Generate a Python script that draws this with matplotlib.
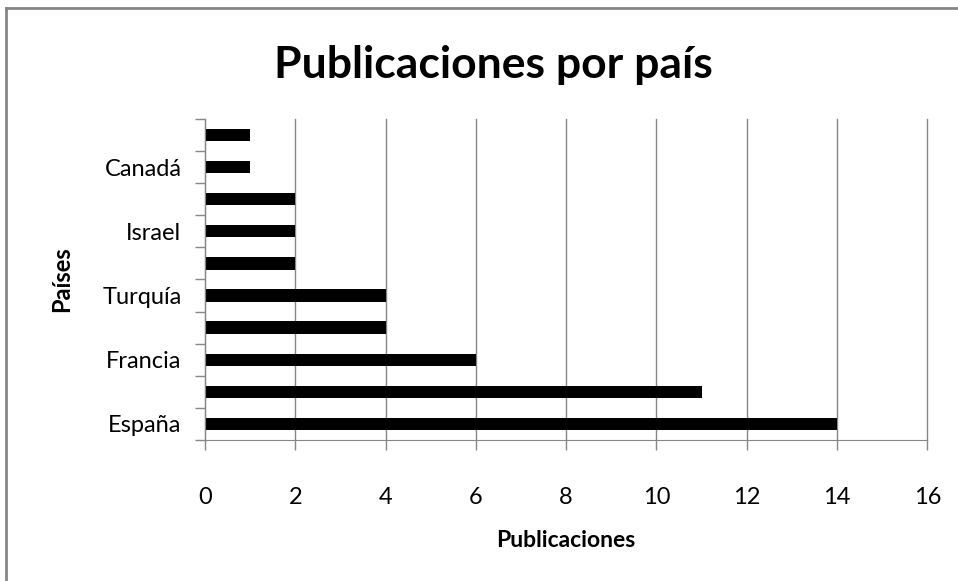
import matplotlib
matplotlib.use("Agg")
import matplotlib.pyplot as plt
import numpy as np
from matplotlib.lines import Line2D

# categories bottom -> top; only every other label is shown in the original
paises = ["España", "", "Francia", "", "Turquía", "", "Israel", "", "Canadá", ""]
publicaciones = [14, 11, 6, 4, 4, 2, 2, 2, 1, 1]
xticks = [0, 2, 4, 6, 8, 10, 12, 14, 16]

plt.rcParams["font.family"] = ["Lato", "DejaVu Sans"]
GRAY = "#868686"

fig = plt.figure(figsize=(9.58, 5.81), dpi=100)
ax = fig.add_axes([0.214, 0.243, 0.754, 0.552])

y = np.arange(len(paises))
ax.barh(y, publicaciones, height=0.38, color="black")

ax.set_xlim(0, 16)
ax.set_ylim(-0.5, len(paises) - 0.5)
ax.set_xticks(xticks)
ax.set_xticklabels([str(v) for v in xticks], fontsize=17)
ax.tick_params(axis="x", length=7, width=1, color=GRAY, pad=27)
ax.grid(axis="x", color=GRAY, lw=1)
for gl in ax.get_xgridlines():
    gl.set_clip_on(False)
ax.set_axisbelow(True)

ax.set_yticks(y)
ax.set_yticklabels(paises, fontsize=17)
ax.tick_params(axis="y", which="major", length=0, pad=17)
ax.set_yticks(np.arange(-0.5, len(paises)), minor=True)
ax.tick_params(axis="y", which="minor", length=7, width=1, color=GRAY)

for s in ["top", "right"]:
    ax.spines[s].set_visible(False)
for s in ["left", "bottom"]:
    ax.spines[s].set_color(GRAY)

ax.set_xlabel("Publicaciones", fontsize=16.5, fontweight="bold")
ax.xaxis.set_label_coords(0.5, -0.28)
ax.set_ylabel("Países", fontsize=17, fontweight="bold")
ax.yaxis.set_label_coords(-0.182, 0.5)
fig.suptitle("Publicaciones por país", fontsize=32, fontweight="bold",
             x=0.515, y=0.922)

# chart-area frame (only left and top edges are visible in the original)
fig.lines.append(Line2D([6 / 958, 6 / 958], [0, 1 - 8 / 581], transform=fig.transFigure,
                        color=GRAY, lw=2))
fig.lines.append(Line2D([6 / 958, 1], [1 - 8 / 581, 1 - 8 / 581], transform=fig.transFigure,
                        color=GRAY, lw=2))

fig.savefig("out.png", dpi=100)
